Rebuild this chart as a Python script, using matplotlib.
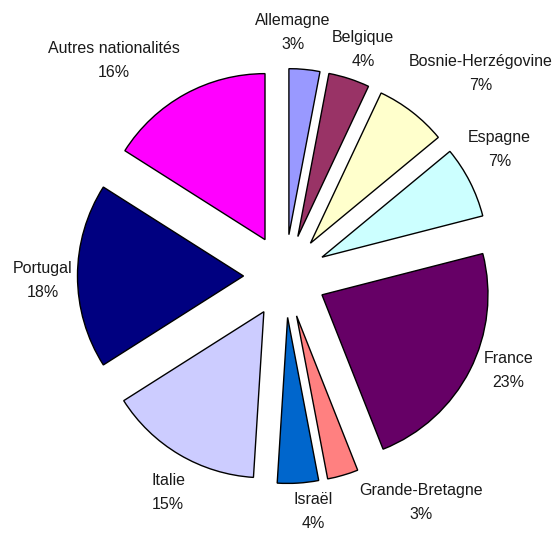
import numpy as np
import matplotlib
matplotlib.use("Agg")
import matplotlib.pyplot as plt

# data
pays = ["Allemagne", "Belgique", "Bosnie-Herzégovine", "Espagne", "France",
        "Grande-Bretagne", "Israël", "Italie", "Portugal", "Autres nationalités"]
parts = [3, 4, 7, 7, 23, 3, 4, 15, 18, 16]
couleurs = ["#9999FF", "#993366", "#FFFFCC", "#CCFFFF", "#660066",
            "#FF8080", "#0066CC", "#CCCCFF", "#000080", "#FF00FF"]

# label placement: distance from wedge centre and angle tweak (degrees)
label_dist = [1.22, 1.195, 1.45, 1.25, 1.21, 1.35, 1.18, 1.23, 1.21, 1.41]
label_dang = [-4.3, 1.2, 7.2, -4.1, -5.0, -17.4, -3.9, -2.6, -1.4, -11.3]

plt.rcParams['font.family'] = ['Liberation Sans', 'DejaVu Sans']

W, H = 559, 533
R = 166.0
cx, cy = 285, 276  # pie centre in pixels (from top-left)

fig = plt.figure(figsize=(W / 100, H / 100), dpi=100)
ax = fig.add_axes([0, 0, 1, 1])

explode = [0.25] * len(parts)
wedges, texts = ax.pie(parts, colors=couleurs, explode=explode, startangle=90,
                       counterclock=False, radius=1,
                       labels=[f"{p}\n{v}%" for p, v in zip(pays, parts)],
                       labeldistance=1.2,
                       wedgeprops=dict(edgecolor="black", linewidth=1.0),
                       textprops=dict(ha="center", va="center", fontsize=11.5,
                                      color="#1a1a1a", linespacing=1.75))

# reposition labels relative to each exploded wedge
cum = np.cumsum([0] + parts[:-1])
tot = float(sum(parts))
for i, t in enumerate(texts):
    th = np.deg2rad((cum[i] + parts[i] / 2) / tot * 360)
    ox, oy = 0.25 * np.sin(th), 0.25 * np.cos(th)
    th2 = th + np.deg2rad(label_dang[i])
    t.set_position((ox + label_dist[i] * np.sin(th2), oy + label_dist[i] * np.cos(th2)))

ax.set_xlim(-cx / R, (W - cx) / R)
ax.set_ylim(-(H - cy) / R, cy / R)
ax.set_aspect("equal")
ax.axis("off")

fig.savefig("out.png", dpi=100)
